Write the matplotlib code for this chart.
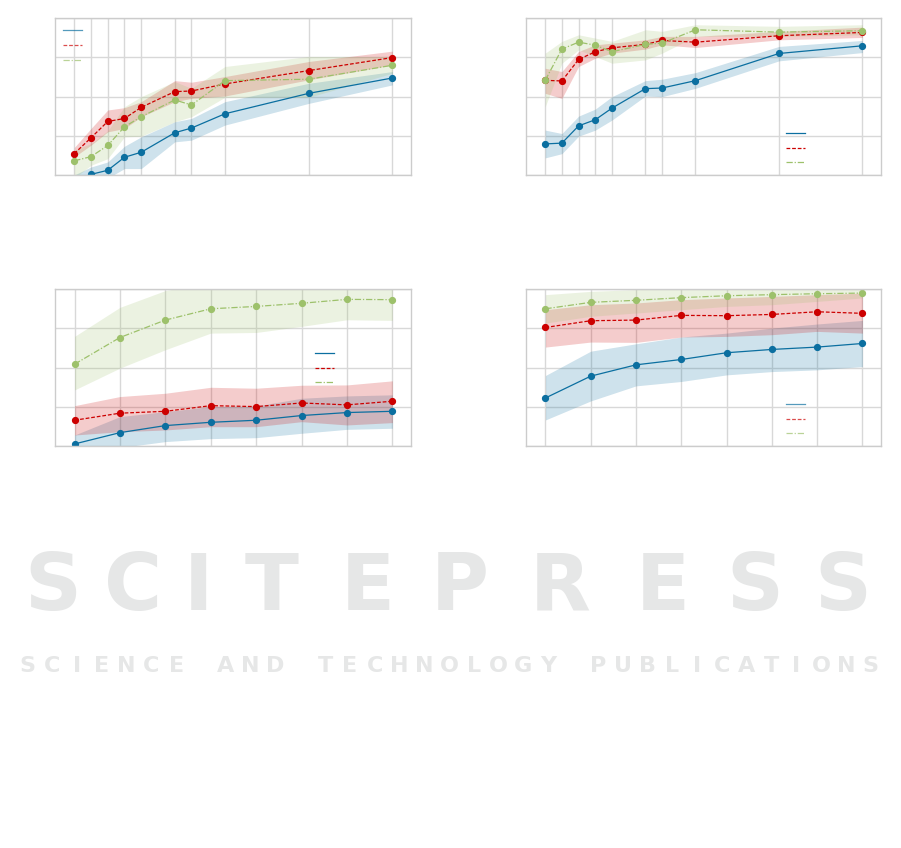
import numpy as np
import matplotlib
matplotlib.use('Agg')
import matplotlib.pyplot as plt

# colours
c_blue = '#0b6fa0'
c_red = '#cc0000'
c_green = '#9dc16b'

# x values
x_top = [1, 2, 3, 4, 5, 7, 8, 10, 15, 20]
x_bot = [1, 2, 3, 4, 5, 6, 7, 8]

# panel 1 (top left)
p1_blue = [-0.06, 0.004, 0.030, 0.113, 0.145, 0.269, 0.299, 0.390, 0.520, 0.618]
p1_blue_lo = [-0.12, -0.05, -0.02, 0.041, 0.041, 0.211, 0.222, 0.318, 0.456, 0.574]
p1_blue_hi = [0.0, 0.051, 0.083, 0.183, 0.243, 0.339, 0.360, 0.467, 0.584, 0.659]
p1_red = [0.136, 0.237, 0.341, 0.360, 0.431, 0.531, 0.535, 0.580, 0.665, 0.748]
p1_red_lo = [0.115, 0.190, 0.275, 0.296, 0.371, 0.467, 0.488, 0.503, 0.606, 0.701]
p1_red_hi = [0.175, 0.296, 0.414, 0.429, 0.467, 0.601, 0.591, 0.627, 0.723, 0.789]
p1_green = [0.090, 0.117, 0.188, 0.307, 0.371, 0.478, 0.446, 0.601, 0.610, 0.699]
p1_green_lo = [-0.02, 0.062, 0.104, 0.243, 0.247, 0.339, 0.371, 0.495, 0.495, 0.648]
p1_green_hi = [0.158, 0.200, 0.281, 0.435, 0.499, 0.595, 0.552, 0.691, 0.755, 0.755]

# panel 2 (top right)
p2_blue = [0.198, 0.203, 0.313, 0.352, 0.426, 0.550, 0.554, 0.601, 0.774, 0.823]
p2_blue_lo = [0.109, 0.136, 0.247, 0.286, 0.350, 0.503, 0.499, 0.552, 0.727, 0.780]
p2_blue_hi = [0.286, 0.264, 0.375, 0.420, 0.499, 0.601, 0.610, 0.652, 0.819, 0.857]
p2_red = [0.603, 0.599, 0.736, 0.785, 0.810, 0.832, 0.857, 0.846, 0.887, 0.908]
p2_red_lo = [0.520, 0.488, 0.691, 0.744, 0.776, 0.802, 0.829, 0.812, 0.861, 0.876]
p2_red_hi = [0.680, 0.659, 0.787, 0.829, 0.840, 0.861, 0.883, 0.883, 0.915, 0.942]
p2_green = [0.603, 0.802, 0.846, 0.827, 0.785, 0.832, 0.840, 0.925, 0.910, 0.919]
p2_green_lo = [0.435, 0.712, 0.797, 0.755, 0.712, 0.733, 0.776, 0.883, 0.883, 0.893]
p2_green_hi = [0.776, 0.851, 0.893, 0.872, 0.851, 0.925, 0.915, 0.957, 0.947, 0.957]

# panel 3 (bottom left)
p3_blue = [0.013, 0.085, 0.130, 0.151, 0.164, 0.194, 0.213, 0.221]
p3_blue_lo = [-0.05, -0.01, 0.028, 0.047, 0.053, 0.081, 0.106, 0.113]
p3_blue_hi = [0.070, 0.187, 0.219, 0.251, 0.255, 0.304, 0.319, 0.326]
p3_red = [0.164, 0.209, 0.221, 0.257, 0.251, 0.274, 0.262, 0.285]
p3_red_lo = [0.070, 0.091, 0.102, 0.123, 0.123, 0.155, 0.134, 0.149]
p3_red_hi = [0.257, 0.315, 0.336, 0.374, 0.368, 0.387, 0.389, 0.415]
p3_green = [0.521, 0.691, 0.802, 0.874, 0.889, 0.909, 0.934, 0.932]
p3_green_lo = [0.357, 0.496, 0.613, 0.719, 0.723, 0.762, 0.804, 0.800]
p3_green_hi = [0.698, 0.883, 0.99, 1.04, 1.05, 1.06, 1.07, 1.07]

# panel 4 (bottom right)
p4_blue = [0.306, 0.445, 0.517, 0.551, 0.594, 0.615, 0.630, 0.653]
p4_blue_lo = [0.166, 0.287, 0.383, 0.411, 0.453, 0.474, 0.485, 0.506]
p4_blue_hi = [0.449, 0.604, 0.651, 0.694, 0.719, 0.751, 0.777, 0.800]
p4_red = [0.755, 0.798, 0.802, 0.832, 0.830, 0.838, 0.855, 0.845]
p4_red_lo = [0.630, 0.662, 0.660, 0.694, 0.698, 0.709, 0.730, 0.719]
p4_red_hi = [0.868, 0.900, 0.911, 0.932, 0.943, 0.953, 0.964, 0.974]
p4_green = [0.874, 0.915, 0.928, 0.945, 0.957, 0.964, 0.970, 0.974]
p4_green_lo = [0.783, 0.826, 0.847, 0.868, 0.889, 0.900, 0.921, 0.943]
p4_green_hi = [0.964, 0.985, 0.996, 1.0, 1.01, 1.01, 1.01, 1.01]

# watermark text
wm_big = 'SCITEPRESS'
wm_big_x = [53, 133, 198, 272, 368, 460, 560, 663, 755, 843]
wm_small = 'SCIENCE AND TECHNOLOGY PUBLICATIONS'


def draw_panel(ax, x, series, xlim, legend_kw, legend_alpha):
    for y, lo, hi, color, ls in series:
        ax.fill_between(x, lo, hi, color=color, alpha=0.2, linewidth=0)
        ax.plot(x, y, color=color, linestyle=ls, linewidth=0.9,
                marker='o', markersize=4.2, label=' ')
    ax.set_xlim(xlim)
    ax.set_ylim(0, 1)
    ax.set_xticks(x)
    ax.set_yticks([0, 0.25, 0.5, 0.75, 1.0])
    ax.set_xticklabels([])
    ax.set_yticklabels([])
    ax.tick_params(length=0)
    ax.grid(color='#d8d8d8', linewidth=1.0)
    ax.set_axisbelow(True)
    for s in ax.spines.values():
        s.set_color('#cccccc')
        s.set_linewidth(1.0)
    leg = ax.legend(frameon=False, fontsize=7, handlelength=2.0, borderaxespad=0,
                    **legend_kw)
    for h in leg.get_lines():
        h.set_marker('')
        h.set_alpha(legend_alpha)


fig = plt.figure(figsize=(9.01, 8.48), dpi=100)

W, H = 901, 848

# publisher watermark, drawn behind the charts
for ch, px in zip(wm_big, wm_big_x):
    fig.text(px / W, 1 - 588 / H, ch, ha='center', va='center',
             fontsize=57, fontweight='bold', color='#e6e7e7', zorder=0)
step = (883 - 15) / len(wm_small)
for i, ch in enumerate(wm_small):
    fig.text((15 + step * (i + 0.5)) / W, 1 - 666 / H, ch, ha='center', va='center',
             fontsize=16, fontweight='bold', color='#e6e7e7', zorder=0)

ax1 = fig.add_axes([55 / W, (H - 175) / H, 356 / W, 157 / H])
ax2 = fig.add_axes([526 / W, (H - 175) / H, 355 / W, 157 / H])
ax3 = fig.add_axes([55 / W, (H - 446) / H, 356 / W, 157 / H])
ax4 = fig.add_axes([526 / W, (H - 446) / H, 355 / W, 157 / H])

draw_panel(ax1, x_top,
           [(p1_blue, p1_blue_lo, p1_blue_hi, c_blue, '-'),
            (p1_red, p1_red_lo, p1_red_hi, c_red, (0, (3, 1.5))),
            (p1_green, p1_green_lo, p1_green_hi, c_green, (0, (5, 1.5, 1, 1.5)))],
           (-0.15, 21.11), dict(loc='upper left', bbox_to_anchor=(0.011, 0.979)), 0.7)
draw_panel(ax2, x_top,
           [(p2_blue, p2_blue_lo, p2_blue_hi, c_blue, '-'),
            (p2_red, p2_red_lo, p2_red_hi, c_red, (0, (3, 1.5))),
            (p2_green, p2_green_lo, p2_green_hi, c_green, (0, (5, 1.5, 1, 1.5)))],
           (-0.15, 21.11), dict(loc='upper left', bbox_to_anchor=(0.721, 0.323)), 1.0)
draw_panel(ax3, x_bot,
           [(p3_blue, p3_blue_lo, p3_blue_hi, c_blue, '-'),
            (p3_red, p3_red_lo, p3_red_hi, c_red, (0, (3, 1.5))),
            (p3_green, p3_green_lo, p3_green_hi, c_green, (0, (5, 1.5, 1, 1.5)))],
           (0.57, 8.41), dict(loc='upper left', bbox_to_anchor=(0.719, 0.648)), 1.0)
draw_panel(ax4, x_bot,
           [(p4_blue, p4_blue_lo, p4_blue_hi, c_blue, '-'),
            (p4_red, p4_red_lo, p4_red_hi, c_red, (0, (3, 1.5))),
            (p4_green, p4_green_lo, p4_green_hi, c_green, (0, (5, 1.5, 1, 1.5)))],
           (0.57, 8.41), dict(loc='upper left', bbox_to_anchor=(0.721, 0.323)), 0.7)

fig.savefig('out.png', dpi=100)
